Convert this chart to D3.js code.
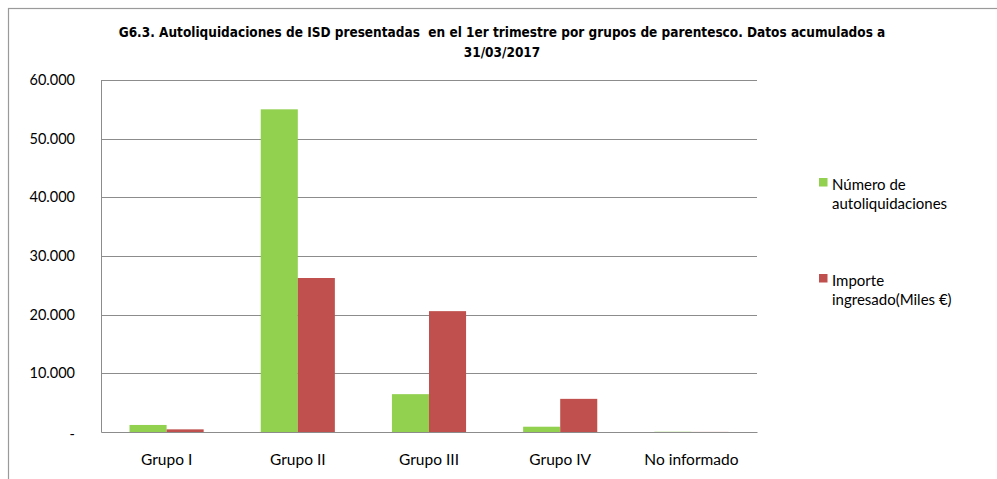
<!DOCTYPE html>
<html>
<head>
<meta charset="utf-8">
<script src="https://cdn.jsdelivr.net/npm/d3@7"></script>
<style>
  body { margin: 0; background: #fff; }
  svg { display: block; }
  .tick text { font-family: Lato, "Open Sans", sans-serif; fill: #000; }
  .title { white-space: pre; }
</style>
</head>
<body>
<svg id="chart" width="997" height="479"></svg>
<script>
"use strict";

const categories = ["Grupo I", "Grupo II", "Grupo III", "Grupo IV", "No informado"];
const seriesNames = ["Número de autoliquidaciones", "Importe ingresado(Miles €)"];
const numeroAutoliquidaciones = [1200, 55000, 6450, 900, 40];
const importeIngresado = [450, 26250, 20600, 5650, 15];
const yTicks = [0, 10000, 20000, 30000, 40000, 50000, 60000];
const titleLines = [
    "G6.3. Autoliquidaciones de ISD presentadas  en el 1er trimestre por grupos de parentesco. Datos acumulados a",
    "31/03/2017"
];
const legendLines = [["Número de", "autoliquidaciones"], ["Importe", "ingresado(Miles €)"]];
const colors = ["#92D050", "#C0504D"];

const svg = d3.select("#chart");
const plot = { left: 101, right: 757, top: 80, bottom: 432 };

// outer frame of the chart area
svg.append("rect")
    .attr("x", 8.5).attr("y", 8.5)
    .attr("width", 1100).attr("height", 600)
    .attr("fill", "none")
    .attr("stroke", "#9a9a9a")
    .attr("stroke-width", 1.2);

svg.append("g")
    .selectAll("text")
    .data(titleLines)
    .join("text")
    .classed("title", true)
    .attr("x", 502)
    .attr("y", (d, i) => 37 + i * 20)
    .attr("text-anchor", "middle")
    .attr("font-family", "'Liberation Sans Narrow', 'DejaVu Sans Condensed', sans-serif")
    .attr("font-weight", "bold")
    .attr("font-size", 13.5)
    .text((d) => d);

const x0 = d3.scaleBand()
    .domain(categories)
    .range([plot.left, plot.right])
    .paddingInner(0.435)
    .paddingOuter(0.2175);

const x1 = d3.scaleBand()
    .domain([0, 1])
    .range([0, x0.bandwidth()]);

const y = d3.scaleLinear()
    .domain([0, 60000])
    .range([plot.bottom, plot.top]);

const fmt = (v) => (v === 0 ? "-" : d3.format(",")(v).replace(/,/g, "."));

// gridlines
svg.append("g")
    .selectAll("line")
    .data(yTicks.filter((d) => d > 0))
    .join("line")
    .attr("x1", plot.left)
    .attr("x2", plot.right)
    .attr("y1", (d) => Math.round(y(d)) + 0.5)
    .attr("y2", (d) => Math.round(y(d)) + 0.5)
    .attr("stroke", "#8c8c8c")
    .attr("stroke-width", 1);

const yAxis = svg.append("g")
    .attr("transform", `translate(${plot.left},0)`)
    .call(d3.axisLeft(y).tickValues(yTicks).tickFormat(fmt).tickSize(0).tickPadding(26));
yAxis.select(".domain").attr("stroke", "#8c8c8c");
yAxis.selectAll(".tick text")
    .attr("font-size", 14.5)
    .attr("dy", (d) => (d === 0 ? "0.45em" : "0.32em"));

const groups = svg.append("g")
    .selectAll("g")
    .data(categories)
    .join("g")
    .attr("transform", (d) => `translate(${x0(d)},0)`);

groups.selectAll("rect")
    .data((d, i) => [numeroAutoliquidaciones[i], importeIngresado[i]])
    .join("rect")
    .attr("x", (d, j) => x1(j))
    .attr("y", (d) => y(d))
    .attr("width", x1.bandwidth())
    .attr("height", (d) => y(0) - y(d))
    .attr("fill", (d, j) => colors[j]);

const xAxis = svg.append("g")
    .attr("transform", `translate(0,${plot.bottom})`)
    .call(d3.axisBottom(x0).tickSize(0).tickPadding(22));
xAxis.select(".domain").attr("stroke", "#8c8c8c");
xAxis.selectAll(".tick text").attr("font-size", 15.5);

// legend
const legend = svg.append("g")
    .selectAll("g")
    .data(seriesNames)
    .join("g")
    .attr("transform", (d, i) => `translate(819,${178 + i * 96})`);

legend.append("rect")
    .attr("width", 8.5)
    .attr("height", 8.5)
    .attr("fill", (d, i) => colors[i]);

legend.append("text")
    .attr("x", 13)
    .attr("y", 12)
    .attr("font-family", "Lato, 'Open Sans', sans-serif")
    .attr("font-size", 15)
    .selectAll("tspan")
    .data((d, i) => legendLines[i])
    .join("tspan")
    .attr("x", 13)
    .attr("dy", (d, k) => (k === 0 ? 0 : 18.5))
    .text((d) => d);
</script>
</body>
</html>
